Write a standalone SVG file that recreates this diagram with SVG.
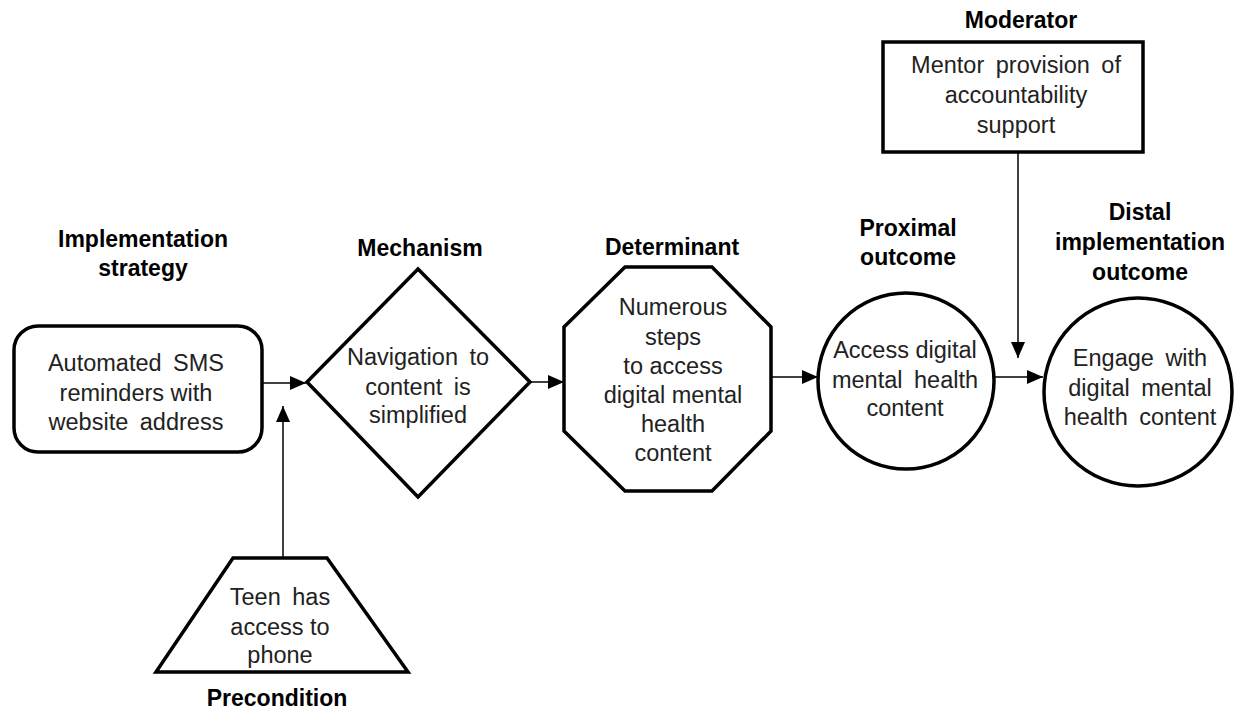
<svg xmlns="http://www.w3.org/2000/svg" width="1235" height="710" viewBox="0 0 1235 710">
  <style>
    .shape { fill: #ffffff; stroke: #000000; stroke-width: 3.5; stroke-linejoin: miter; }
    .body { font-family: "Liberation Sans", Arial, sans-serif; font-size: 23.5px; fill: #222222; text-anchor: middle; }
    .wide { word-spacing: 5px; }
    .label { font-family: "Liberation Sans", Arial, sans-serif; font-size: 23px; font-weight: bold; fill: #000000; text-anchor: middle; }
    .conn { stroke: #000000; stroke-width: 1.5; fill: none; marker-end: url(#arrow); }
  </style>
  <defs>
    <marker id="arrow" markerUnits="userSpaceOnUse" markerWidth="16" markerHeight="16" viewBox="0 0 16 16" refX="16" refY="8" orient="auto">
      <path d="M0,1 L16,8 L0,15 Z" fill="#000000"/>
    </marker>
  </defs>

  <rect width="1235" height="710" fill="#ffffff"/>

  <!-- connectors -->
  <g id="connectors">
    <line class="conn" x1="262" y1="383" x2="306" y2="383"/>
    <line class="conn" x1="283" y1="558" x2="283" y2="406"/>
    <line class="conn" x1="530" y1="382" x2="564" y2="382"/>
    <line class="conn" x1="771" y1="377" x2="818" y2="377"/>
    <line class="conn" x1="994" y1="377" x2="1043" y2="377"/>
    <line class="conn" x1="1018" y1="152" x2="1018" y2="358"/>
  </g>

  <!-- implementation strategy -->
  <g id="strategy">
    <text class="label" x="143" y="247">Implementation</text>
    <text class="label" x="143" y="276">strategy</text>
    <rect class="shape" x="14" y="326" width="248" height="126" rx="24" ry="24"/>
    <text class="body wide" x="136" y="371">Automated SMS</text>
    <text class="body" x="136" y="401">reminders with</text>
    <text class="body wide" x="136" y="430">website address</text>
  </g>

  <!-- mechanism -->
  <g id="mechanism">
    <text class="label" x="420" y="256">Mechanism</text>
    <polygon class="shape" points="418,269 530,382 418,497 307,382"/>
    <text class="body wide" x="418" y="365">Navigation to</text>
    <text class="body wide" x="418" y="395">content is</text>
    <text class="body" x="418" y="423">simplified</text>
  </g>

  <!-- determinant -->
  <g id="determinant">
    <text class="label" x="672" y="255">Determinant</text>
    <polygon class="shape" points="625,267 712,267 771,327 771,431 712,491 625,491 564,431 564,327"/>
    <text class="body" x="673" y="315">Numerous</text>
    <text class="body" x="673" y="345">steps</text>
    <text class="body" x="673" y="374">to access</text>
    <text class="body" x="673" y="403">digital mental</text>
    <text class="body" x="673" y="432">health</text>
    <text class="body" x="673" y="461">content</text>
  </g>

  <!-- proximal outcome -->
  <g id="proximal">
    <text class="label" x="908" y="236">Proximal</text>
    <text class="label" x="908" y="265">outcome</text>
    <circle class="shape" cx="906" cy="381" r="88"/>
    <text class="body" x="905" y="358">Access digital</text>
    <text class="body wide" x="905" y="388">mental health</text>
    <text class="body" x="905" y="416">content</text>
  </g>

  <!-- distal implementation outcome -->
  <g id="distal">
    <text class="label" x="1140" y="220">Distal</text>
    <text class="label" x="1140" y="250">implementation</text>
    <text class="label" x="1140" y="280">outcome</text>
    <circle class="shape" cx="1138" cy="392" r="94"/>
    <text class="body wide" x="1140" y="366">Engage with</text>
    <text class="body wide" x="1140" y="396">digital mental</text>
    <text class="body wide" x="1140" y="425">health content</text>
  </g>

  <!-- moderator -->
  <g id="moderator">
    <text class="label" x="1021" y="28">Moderator</text>
    <rect class="shape" x="883" y="42" width="260" height="110"/>
    <text class="body wide" x="1016" y="73">Mentor provision of</text>
    <text class="body" x="1016" y="103">accountability</text>
    <text class="body" x="1016" y="133">support</text>
  </g>

  <!-- precondition -->
  <g id="precondition">
    <polygon class="shape" points="233,558 327,558 408,672 156,672"/>
    <text class="body wide" x="280" y="605">Teen has</text>
    <text class="body" x="280" y="635">access to</text>
    <text class="body" x="280" y="663">phone</text>
    <text class="label" x="277" y="706">Precondition</text>
  </g>
</svg>
